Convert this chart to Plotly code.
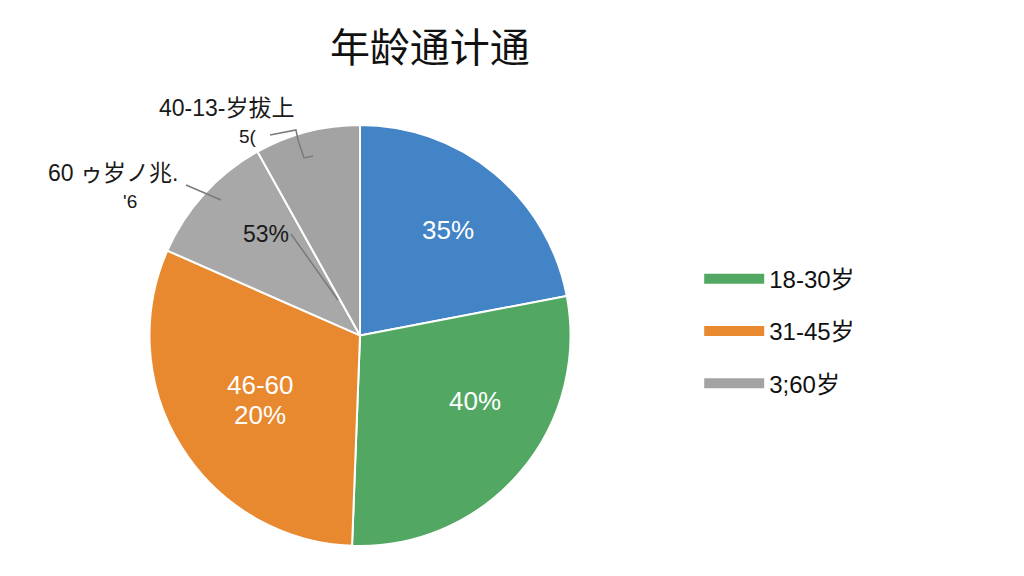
import plotly.graph_objects as go
import re

# Data (slice shares, clockwise from 12 o'clock)
slice_names = ["35%", "40%", "46-60", "53%", "5("]
slice_values = [22.0, 28.6, 31.0, 10.3, 8.1]
slice_colors = ["#4284C6", "#52A862", "#E8892F", "#A8A8A8", "#A3A3A3"]

legend_labels = ["18-30岁", "31-45岁", "3;60岁"]
legend_colors = ["#52A862", "#E8892F", "#A3A3A3"]

title_text = "年龄通计通"

fig = go.Figure()
fig.add_trace(go.Pie(
    labels=slice_names, values=slice_values, sort=False,
    direction="clockwise", rotation=0,
    marker=dict(colors=slice_colors, line=dict(color="white", width=2)),
    textinfo="none", hoverinfo="label+percent", showlegend=False,
    domain=dict(x=[0.1367, 0.5508], y=[0.066, 0.797]),
))

for i, (name, col) in enumerate(zip(legend_labels, legend_colors)):
    fig.add_trace(go.Scatter(
        x=[None], y=[None], mode="lines", name=name, legendgroup=f"g{i}",
        line=dict(color=col, width=18),
    ))

ann_font = dict(family="Liberation Sans, Noto Sans CJK SC", color="white", size=26)
dark_font = dict(family="Liberation Sans, Noto Sans CJK SC", color="#1a1a1a", size=23)
annotations = [
    dict(x=440, y=222, text="35%", font=ann_font),
    dict(x=467, y=393, text="40%", font=ann_font),
    dict(x=252, y=377, text="46-60", font=ann_font),
    dict(x=252, y=407, text="20%", font=ann_font),
    dict(x=258, y=226, text="53%", font=dict(family="Liberation Sans", color="#1a1a1a", size=23)),
    dict(x=218, y=100, text="40-13-岁拔上", font=dark_font),
    dict(x=240, y=128, text="5(", font=dict(family="Liberation Sans", color="#1a1a1a", size=19)),
    dict(x=105, y=165, text="60 ゥ岁ノ兆.", font=dark_font),
    dict(x=122, y=193, text="'6", font=dict(family="Liberation Sans", color="#1a1a1a", size=19)),
]
for a in annotations:
    a.update(xref="paper", yref="paper", showarrow=False,
             xanchor="center", yanchor="middle")
    a["x"] = a["x"] / 1024
    a["y"] = 1 - a["y"] / 576

shapes = [
    dict(type="line", x0=178, y0=177, x1=213, y1=192),
    dict(type="path", path="M 262 127 L 288 122 L 290 132 L 296 150 L 305 148"),
    dict(type="line", x0=283, y0=226, x1=330, y1=292),
]
for s in shapes:
    s.update(xref="paper", yref="paper", line=dict(color="#7a7a7a", width=1.5))
    if s["type"] == "line":
        s["x0"] /= 1024; s["x1"] /= 1024
        s["y0"] = 1 - s["y0"] / 576; s["y1"] = 1 - s["y1"] / 576
    else:
        nums = re.findall(r"[ML] (\d+) (\d+)", s["path"])
        parts = []
        for i, (px, py) in enumerate(nums):
            parts.append(("M" if i == 0 else "L") + f" {int(px)/1024:.4f} {1-int(py)/576:.4f}")
        s["path"] = " ".join(parts)

fig.update_layout(
    width=1024, height=576,
    paper_bgcolor="white", plot_bgcolor="white",
    margin=dict(l=0, r=0, t=0, b=0),
    title=dict(text=title_text, x=0.412, xanchor="center", y=0.93, yanchor="middle",
               font=dict(family="Noto Sans CJK SC", size=40, color="#111111")),
    xaxis=dict(visible=False), yaxis=dict(visible=False),
    legend=dict(x=0.675, y=0.439, xanchor="left", yanchor="middle",
                font=dict(family="Liberation Sans, Noto Sans CJK SC", size=24, color="#111111"),
                itemwidth=60, traceorder="grouped", tracegroupgap=18,
                bgcolor="rgba(0,0,0,0)"),
    annotations=annotations, shapes=shapes,
)
fig.write_html("out.html")
